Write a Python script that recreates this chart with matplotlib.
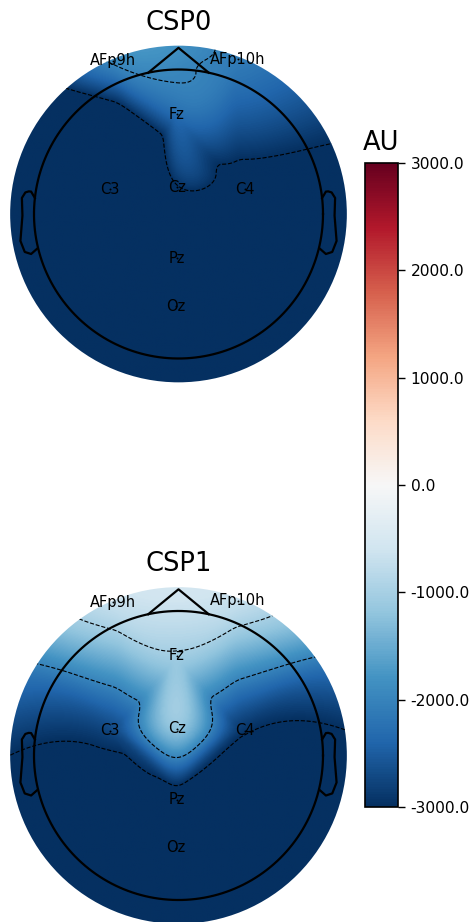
import numpy as np
import matplotlib
matplotlib.use('Agg')
import matplotlib.pyplot as plt
import matplotlib.tri as mtri
from matplotlib.patches import Circle

# ---------------- data ----------------
ch_names = ['AFp9h', 'AFp10h', 'Fz', 'C3', 'Cz', 'C4', 'Pz', 'Oz']
ch_x = [-0.453, 0.41, -0.012, -0.477, -0.012, 0.462, -0.012, -0.02]
ch_y = [1.06, 1.07, 0.69, 0.17, 0.186, 0.171, -0.305, -0.637]
comp_titles = ['CSP0', 'CSP1']
csp0_values = [-1950, -2100, -2300, -6000, -3050, -3400, -5500, -6000]
csp1_values = [-700, -700, -1050, -2750, -1200, -2950, -3400, -4200]
vmin, vmax = -3000, 3000
cbar_ticks = [-3000, -2000, -1000, 0, 1000, 2000, 3000]
contour_levels = [-3000, -2000, -1000, 0, 1000, 2000, 3000]
cbar_label = 'AU'

# ---------------- layout (pixels) ----------------
W, H, DPI = 472, 922, 100
R = 144.5          # head radius in px
CLIP = 1.165       # image clip radius (head units)

fig = plt.figure(figsize=(W / DPI, H / DPI), dpi=DPI)


def add_head_axes(cx, cy, top, bottom, left=0, right=357):
    ax = fig.add_axes([left / W, 1 - bottom / H, (right - left) / W, (bottom - top) / H])
    ax.set_xlim((left - cx) / R, (right - cx) / R)
    ax.set_ylim((cy - bottom) / R, (cy - top) / R)
    ax.set_axis_off()
    return ax


def extra_points(pos):
    tri = mtri.Triangulation(pos[:, 0], pos[:, 1])
    t = tri.triangles
    d = np.concatenate([np.linalg.norm(pos[t[:, 0]] - pos[t[:, 1]], axis=1),
                        np.linalg.norm(pos[t[:, 1]] - pos[t[:, 2]], axis=1)])
    distance = np.median(d)
    angle = np.arcsin(min(distance, 1.0))
    n = max(12, int(np.round(2 * np.pi / angle)))
    th = np.linspace(0, 2 * np.pi, n, endpoint=False)
    r = 1.1 + distance
    return np.c_[np.cos(th) * r, np.sin(th) * r]


def draw_topo(ax, values, title):
    pos = np.c_[ch_x, ch_y]
    vals = np.asarray(values, float)
    n = len(pos)
    ext = extra_points(pos)
    allp = np.r_[pos, ext]
    tri = mtri.Triangulation(allp[:, 0], allp[:, 1])
    v_extra = np.zeros(len(ext))
    used = np.zeros(len(ext), bool)
    e = tri.edges
    for k in range(len(ext)):
        idx = n + k
        ngb = np.r_[e[e[:, 0] == idx, 1], e[e[:, 1] == idx, 0]]
        ngb = ngb[ngb < n]
        if len(ngb):
            used[k] = True
            v_extra[k] = vals[ngb].mean()
    if (~used).any():
        v_extra[~used] = v_extra[used].mean()
    z = np.r_[vals, v_extra]
    interp = mtri.CubicTriInterpolator(tri, z, kind='geom')
    g = np.linspace(-1.2, 1.2, 361)
    X, Y = np.meshgrid(g, g)
    Z = interp(X, Y)
    clip = Circle((0, 0), CLIP, transform=ax.transData)
    im = ax.imshow(Z, extent=(g[0], g[-1], g[0], g[-1]), origin='lower',
                   cmap='RdBu_r', vmin=vmin, vmax=vmax, interpolation='bilinear')
    im.set_clip_path(clip)
    cs = ax.contour(X, Y, Z, levels=contour_levels, colors='k', linewidths=0.8)
    cs.set_clip_path(clip)
    # head outline
    th = np.linspace(0, 2 * np.pi, 200)
    lw = 1.6
    ax.plot(np.cos(th), np.sin(th), color='k', lw=lw)
    dx = 0.20944
    dy = np.sqrt(1 - dx ** 2)
    ax.plot([-dx, 0, dx], [dy, 1.15, dy], color='k', lw=lw)
    ear_x = np.array([.497, .510, .518, .5299, .5419, .54, .547, .532, .510, .489]) * 2
    ear_y = np.array([.0555, .0775, .0783, .0746, .0555, -.0055, -.0932, -.1313, -.1384, -.1199]) * 2
    ax.plot(ear_x, ear_y, color='k', lw=lw)
    ax.plot(-ear_x, ear_y, color='k', lw=lw)
    # sensors + names
    ax.scatter(pos[:, 0], pos[:, 1], s=2, c='k', lw=0, zorder=5)
    for nm, x, y in zip(ch_names, ch_x, ch_y):
        ax.text(x, y, nm, ha='center', va='center', fontsize=10.5, zorder=6)
    ax.text(0, 191.5 / R, title, ha='center', va='center', fontsize=18.5, clip_on=False)
    return im


ax0 = add_head_axes(178.5, 214, 44, 384)
im0 = draw_topo(ax0, csp0_values, comp_titles[0])
ax1 = add_head_axes(178.5, 755.5, 585, 922)
im1 = draw_topo(ax1, csp1_values, comp_titles[1])

# colorbar
cb_left, cb_right, cb_top, cb_bot = 365, 398, 163, 807
cax = fig.add_axes([cb_left / W, 1 - cb_bot / H, (cb_right - cb_left) / W, (cb_bot - cb_top) / H])
cbar = fig.colorbar(im1, cax=cax, format='%3.1f', ticks=cbar_ticks)
cbar.ax.tick_params(labelsize=11.2, length=5, width=1, pad=4)
cbar.outline.set_linewidth(1.2)
cax.text(0.5, 1 + 20.5 / (cb_bot - cb_top), cbar_label, transform=cax.transAxes,
         ha='center', va='center', fontsize=18.5)

fig.savefig('out.png', dpi=DPI)
